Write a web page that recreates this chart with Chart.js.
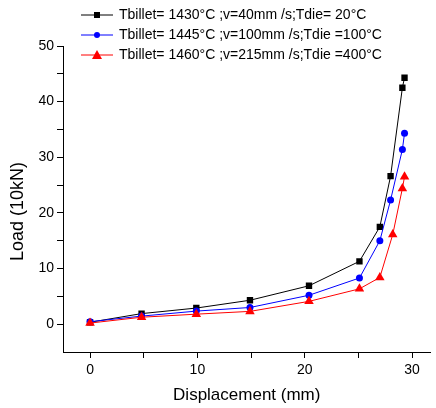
<!DOCTYPE html>
<html>
<head>
<meta charset="utf-8">
<script src="https://cdn.jsdelivr.net/npm/chart.js@4.4.0/dist/chart.umd.min.js"></script>
<style>
  html, body { margin: 0; padding: 0; background: #fff; }
  #wrap { width: 436px; height: 408px; }
</style>
</head>
<body>
<div id="wrap"><canvas id="loadChart" width="436" height="408"></canvas></div>
<script>
// series (displacement mm, load 10kN)
const seriesLabels = [
    'Tbillet= 1430°C ;v=40mm /s;Tdie= 20°C',
    'Tbillet= 1445°C ;v=100mm /s;Tdie =100°C',
    'Tbillet= 1460°C ;v=215mm /s;Tdie =400°C'
];
const dispA = [0, 4.8, 9.9, 14.9, 20.4, 25.1, 27.0, 28.0, 29.1, 29.3];
const loadA = [0.35, 1.9, 2.9, 4.3, 6.9, 11.3, 17.5, 26.6, 42.5, 44.3];
const dispB = [0, 4.8, 9.9, 14.9, 20.4, 25.1, 27.0, 28.0, 29.1, 29.3];
const loadB = [0.45, 1.45, 2.35, 3.0, 5.2, 8.3, 15.0, 22.3, 31.4, 34.3];
const dispC = [0, 4.8, 9.9, 14.9, 20.4, 25.1, 27.0, 28.2, 29.1, 29.3];
const loadC = [0.2, 1.25, 1.8, 2.3, 4.1, 6.35, 8.4, 16.1, 24.4, 26.5];

const FONT = 'Arial, "Liberation Sans", sans-serif';

function toPoints(xs, ys) {
    return xs.map((x, i) => ({ x: x, y: ys[i] }));
}

// 범례: 선 + 마커 + 텍스트
const lineLegend = {
    id: 'lineLegend',
    afterDraw(chart) {
        const ctx = chart.ctx;
        ctx.save();
        ctx.font = '14px ' + FONT;
        ctx.textBaseline = 'middle';
        chart.data.datasets.forEach((ds, i) => {
            const y = 15 + i * 20;
            ctx.strokeStyle = ds.borderColor;
            ctx.lineWidth = 1;
            ctx.beginPath();
            ctx.moveTo(81, y);
            ctx.lineTo(113, y);
            ctx.stroke();
            ctx.fillStyle = ds.borderColor;
            ctx.beginPath();
            if (ds.pointStyle === 'rect') {
                ctx.rect(97 - 3, y - 3, 6, 6);
            } else if (ds.pointStyle === 'circle') {
                ctx.arc(97, y, 3, 0, Math.PI * 2);
            } else {
                ctx.moveTo(97, y - 5);
                ctx.lineTo(102, y + 4);
                ctx.lineTo(92, y + 4);
                ctx.closePath();
            }
            ctx.fill();
            ctx.fillStyle = '#000';
            ctx.fillText(ds.label, 119, y);
        });
        ctx.restore();
    }
};

const ctx = document.getElementById('loadChart').getContext('2d');
new Chart(ctx, {
    type: 'line',
    data: {
        datasets: [
            {
                label: seriesLabels[0],
                data: toPoints(dispA, loadA),
                borderColor: '#000000',
                backgroundColor: '#000000',
                pointStyle: 'rect',
                pointRadius: 4.5,
                order: 3
            },
            {
                label: seriesLabels[1],
                data: toPoints(dispB, loadB),
                borderColor: '#0000ff',
                backgroundColor: '#0000ff',
                pointStyle: 'circle',
                pointRadius: 3.5,
                order: 2
            },
            {
                label: seriesLabels[2],
                data: toPoints(dispC, loadC),
                borderColor: '#ff0000',
                backgroundColor: '#ff0000',
                pointStyle: 'triangle',
                pointRadius: 5.5,
                order: 1
            }
        ]
    },
    options: {
        responsive: false,
        animation: false,
        layout: { padding: { top: 46, right: 0, left: 0, bottom: 0 } },
        elements: {
            line: { borderWidth: 1, tension: 0 },
            point: { borderWidth: 0 }
        },
        plugins: {
            legend: { display: false },
            tooltip: { enabled: false }
        },
        scales: {
            x: {
                type: 'linear',
                min: -2.52,
                max: 31.72,
                grid: { drawOnChartArea: false, tickLength: 6, color: '#000' },
                border: { color: '#000', width: 1 },
                ticks: {
                    stepSize: 5,
                    includeBounds: false,
                    padding: 4,
                    color: '#000',
                    font: { family: FONT, size: 14 },
                    maxRotation: 0,
                    callback: v => (v % 10 === 0 ? v : '')
                },
                title: {
                    display: true,
                    text: 'Displacement (mm)',
                    color: '#000',
                    font: { family: FONT, size: 17 },
                    padding: { top: 0, bottom: 2 }
                },
                afterFit: s => { s.height = 56; }
            },
            y: {
                min: -5,
                max: 50,
                grid: {
                    drawOnChartArea: false,
                    tickLength: 6,
                    color: c => (c.tick && c.tick.value === -5 ? 'rgba(0,0,0,0)' : '#000')
                },
                border: { color: '#000', width: 1 },
                ticks: {
                    stepSize: 5,
                    padding: 3,
                    color: '#000',
                    font: { family: FONT, size: 14 },
                    callback: v => (v % 10 === 0 ? v : '')
                },
                title: {
                    display: true,
                    text: 'Load (10kN)     ',
                    color: '#000',
                    font: { family: FONT, size: 18 },
                    padding: { top: 7, bottom: 0 }
                },
                afterFit: s => { s.width = 63; }
            }
        }
    },
    plugins: [lineLegend]
});
</script>
</body>
</html>
